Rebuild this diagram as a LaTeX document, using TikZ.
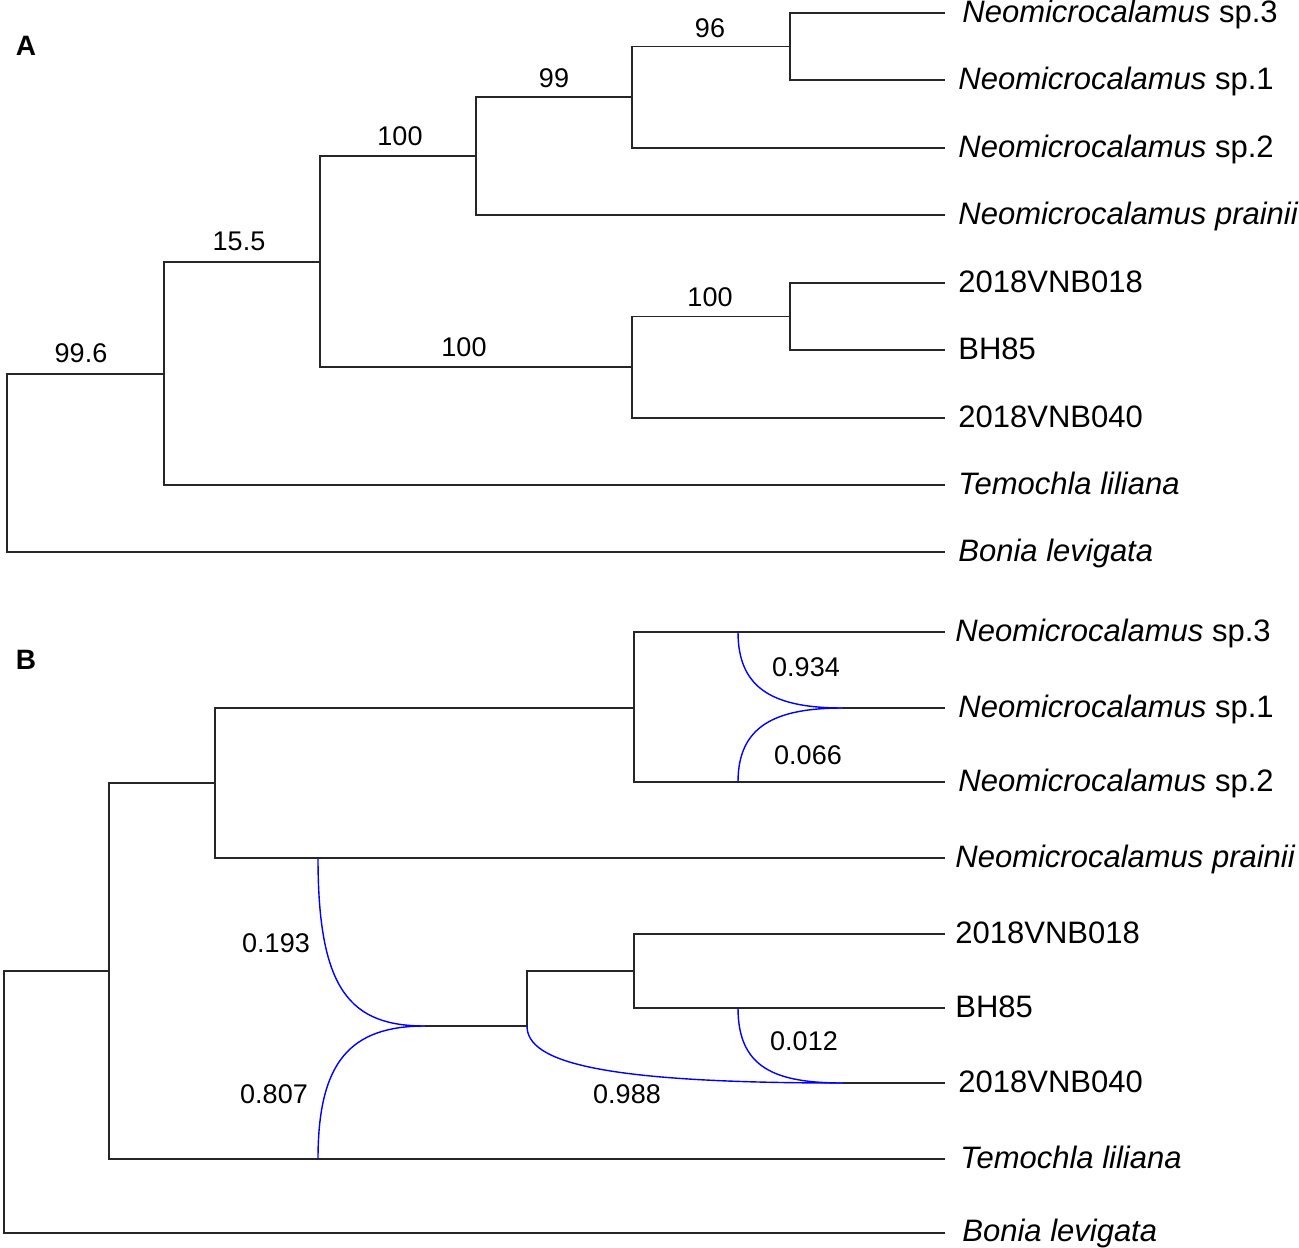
\documentclass[tikz,border=0pt]{standalone}
\usepackage{fontspec}
\setmainfont{Liberation Sans}
\begin{document}
\begin{tikzpicture}[x=0.5pt,y=-0.5pt,
  br/.style={draw=black!85,line width=0.7pt},
  ret/.style={draw=blue,line width=0.7pt},
  leaf/.style={anchor=base west,inner sep=0pt,yshift=-4.7pt,font=\fontsize{15.5pt}{18pt}\selectfont},
  sup/.style={anchor=base,inner sep=0pt,yshift=-4.8pt,font=\fontsize{13.5pt}{16pt}\selectfont},
  panel/.style={anchor=center,inner sep=0pt,font=\fontsize{14pt}{16pt}\selectfont\bfseries}]
\useasboundingbox (0,0) rectangle (1299,1247);
% ---------- Panel A ----------
\node[panel] (pA) at (26,46) {A};
\coordinate (a1) at (945,13);
\coordinate (a2) at (945,80);
\coordinate (a3) at (945,148);
\coordinate (a4) at (945,215);
\coordinate (a5) at (945,283);
\coordinate (a6) at (945,350);
\coordinate (a7) at (945,418);
\coordinate (a8) at (945,485);
\coordinate (a9) at (945,552);
\node[leaf] (la1) at (962,13) {\textit{Neomicrocalamus} sp.3};
\node[leaf] (la2) at (958,80) {\textit{Neomicrocalamus} sp.1};
\node[leaf] (la3) at (958,148) {\textit{Neomicrocalamus} sp.2};
\node[leaf] (la4) at (958,215) {\textit{Neomicrocalamus prainii}};
\node[leaf] (la5) at (958,283) {2018VNB018};
\node[leaf] (la6) at (958,350) {BH85};
\node[leaf] (la7) at (958,418) {2018VNB040};
\node[leaf] (la8) at (958,485) {\textit{Temochla liliana}};
\node[leaf] (la9) at (958,552) {\textit{Bonia levigata}};
% internal nodes
\coordinate (nA1) at (790,46.5);
\coordinate (nA2) at (632,97);
\coordinate (nA3) at (476,156);
\coordinate (nA4) at (790,316.5);
\coordinate (nA5) at (632,367);
\coordinate (nA6) at (320,262);
\coordinate (nA7) at (164,374);
\coordinate (nA8) at (7,374);
\draw[br] (a1) -| (nA1) |- (a2);
\draw[br] (nA1) -| (nA2) |- (a3);
\draw[br] (nA2) -| (nA3) |- (a4);
\draw[br] (a5) -| (nA4) |- (a6);
\draw[br] (nA4) -| (nA5) |- (a7);
\draw[br] (nA3) -| (nA6) |- (nA5);
\draw[br] (nA6) -| (nA7) |- (a8);
\draw[br] (nA7) -- (nA8) |- (a9);
\node[sup] (sA1) at (710,28) {96};
\node[sup] (sA2) at (554,78) {99};
\node[sup] (sA3) at (400,136) {100};
\node[sup] (sA4) at (710,297) {100};
\node[sup] (sA5) at (464,347) {100};
\node[sup] (sA6) at (239,241) {15.5};
\node[sup] (sA7) at (81,353) {99.6};
% ---------- Panel B ----------
\node[panel] (pB) at (26,660) {B};
\coordinate (b1) at (945,632);
\coordinate (b2) at (945,708);
\coordinate (b3) at (945,782);
\coordinate (b4) at (945,858);
\coordinate (b5) at (945,934);
\coordinate (b6) at (945,1008);
\coordinate (b7) at (945,1083);
\coordinate (b8) at (945,1159);
\coordinate (b9) at (945,1233);
\node[leaf] (lb1) at (955,632) {\textit{Neomicrocalamus} sp.3};
\node[leaf] (lb2) at (958,708) {\textit{Neomicrocalamus} sp.1};
\node[leaf] (lb3) at (958,782) {\textit{Neomicrocalamus} sp.2};
\node[leaf] (lb4) at (955,858) {\textit{Neomicrocalamus prainii}};
\node[leaf] (lb5) at (955,934) {2018VNB018};
\node[leaf] (lb6) at (955,1008) {BH85};
\node[leaf] (lb7) at (958,1083) {2018VNB040};
\node[leaf] (lb8) at (960,1159) {\textit{Temochla liliana}};
\node[leaf] (lb9) at (962,1232) {\textit{Bonia levigata}};
% internal nodes
\coordinate (nB1) at (634,708);
\coordinate (nB2) at (215,783);
\coordinate (nB3) at (634,971);
\coordinate (nB4) at (527,1026);
\coordinate (nB5) at (425,1026);
\coordinate (nB6) at (109,971);
\coordinate (nB7) at (4,971);
\coordinate (h1) at (843,708);
\coordinate (h2) at (843,1083);
\coordinate (r1) at (738,632);
\coordinate (r2) at (738,782);
\coordinate (r3) at (738,1008);
\coordinate (r4) at (318,858);
\coordinate (r5) at (318,1159);
\draw[br] (b1) -| (nB1) |- (b3);
\draw[br] (h1) -- (b2);
\draw[br] (nB1) -| (nB2) |- (b4);
\draw[br] (b5) -| (nB3) |- (b6);
\draw[br] (nB3) -| (nB4) |- (nB5);
\draw[br] (h2) -- (b7);
\draw[br] (nB2) -| (nB6) |- (b8);
\draw[br] (nB6) -- (nB7) |- (b9);
% reticulation curves
\draw[ret] (r1) .. controls (738,690) and (775,708) .. (h1);
\draw[ret] (r2) .. controls (738,726) and (775,708) .. (h1);
\draw[ret] (r3) .. controls (738,1068) and (775,1083) .. (h2);
\draw[ret] (nB4) .. controls (527,1062) and (600,1083) .. (h2);
\draw[ret] (r4) .. controls (318,990) and (350,1026) .. (nB5);
\draw[ret] (r5) .. controls (318,1062) and (350,1026) .. (nB5);
\node[sup] (sB1) at (806,667) {0.934};
\node[sup] (sB2) at (808,755) {0.066};
\node[sup] (sB3) at (804,1041) {0.012};
\node[sup] (sB4) at (627,1094) {0.988};
\node[sup] (sB5) at (276,943) {0.193};
\node[sup] (sB6) at (274,1094) {0.807};
\end{tikzpicture}
\end{document}
